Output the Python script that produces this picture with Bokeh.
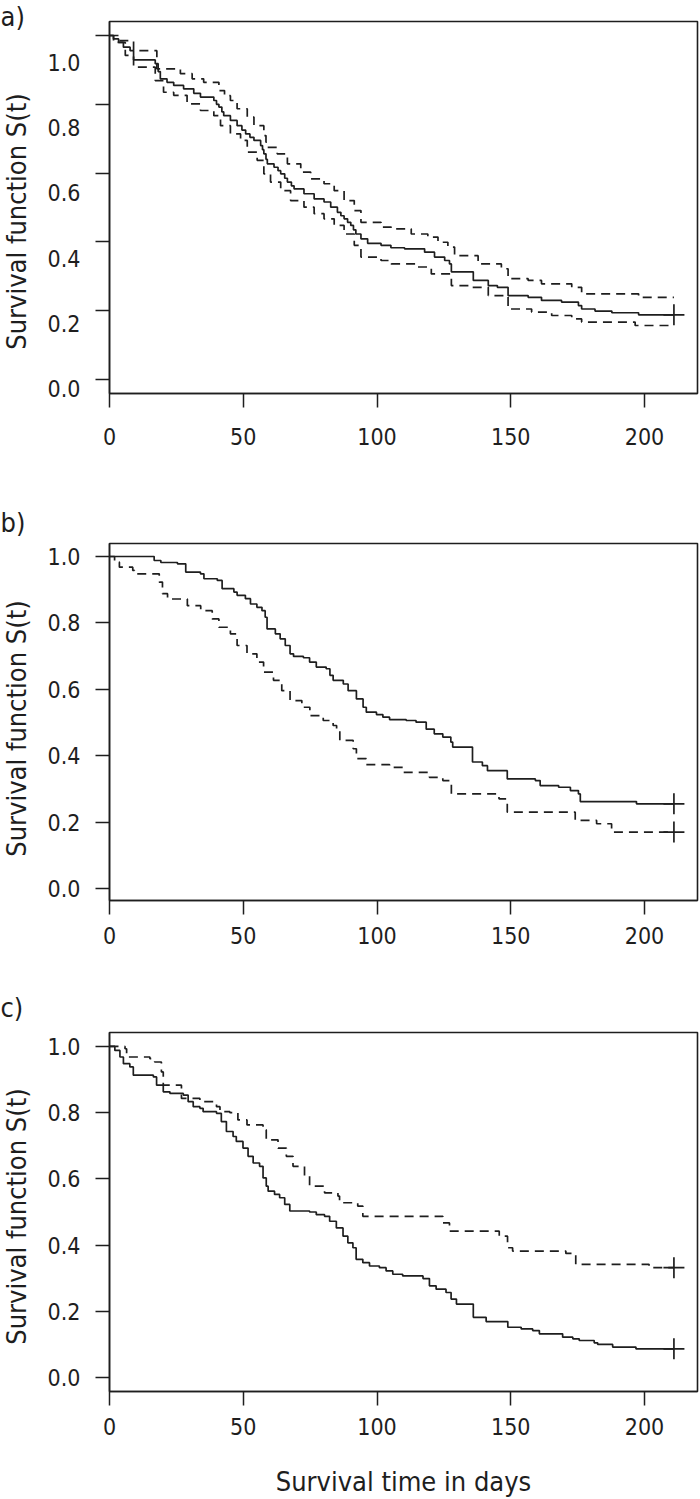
import numpy as np
from bokeh.plotting import figure
from bokeh.models import Range1d, LinearAxis, FixedTicker, NumeralTickFormatter
from bokeh.layouts import column, row
from bokeh.core.properties import value
from bokeh.embed import file_html
from bokeh.resources import INLINE

# ------------------------------------------------------------------ data
TICKS_X = [0, 50, 100, 150, 200]
TICKS_Y = [0.0, 0.2, 0.4, 0.6, 0.8, 1.0]
PANEL_TAGS = ["a)", "b)", "c)"]
Y_TITLE = "Survival function S(t)"
X_TITLE = "Survival time in days"
CENSOR_DAY = 211.0

# panel a: Kaplan-Meier estimate with upper / lower confidence band
A_T = [0, 1.5, 3.4, 5.2, 7.7, 9.0, 17.1, 18.2, 19.0, 21.5, 24.0, 27.7, 31.5, 34.0, 39.0, 40.0,
       40.9, 42.0, 42.7, 45.2, 47.7, 49.5, 50.9, 52.5, 54.0, 56.5, 57.2, 57.7, 58.5, 59.0, 61.5,
       63.0, 64.0, 65.5, 66.5, 68.0, 69.0, 72.7, 76.5, 80.2, 82.7, 85.2, 86.5, 87.7, 89.0, 90.2,
       91.2, 92.1, 94.0, 96.5, 101.5, 105.2, 110.3, 117.8, 121.5, 125.3, 127.1, 127.8, 136.0,
       141.6, 145.0, 149.0, 156.5, 161.5, 169.0, 175.3, 176.5, 181.5, 187.8, 197.8]
A_S = [1.0, 0.990, 0.980, 0.966, 0.956, 0.929, 0.918, 0.895, 0.874, 0.864, 0.855, 0.845, 0.832,
       0.821, 0.811, 0.800, 0.792, 0.778, 0.767, 0.753, 0.738, 0.725, 0.714, 0.704, 0.695, 0.680,
       0.668, 0.656, 0.640, 0.627, 0.617, 0.607, 0.598, 0.585, 0.574, 0.563, 0.554, 0.540, 0.525,
       0.516, 0.501, 0.486, 0.476, 0.467, 0.457, 0.448, 0.435, 0.423, 0.409, 0.396, 0.390, 0.383,
       0.380, 0.370, 0.356, 0.346, 0.336, 0.313, 0.288, 0.273, 0.268, 0.244, 0.239, 0.230, 0.225,
       0.215, 0.205, 0.199, 0.194, 0.188]
A_UP_T = [0, 4.0, 9.0, 17.7, 26.5, 30.9, 35.2, 40.9, 43.0, 45.2, 47.7, 51.5, 54.0, 57.7, 58.5,
          59.0, 62.7, 66.5, 71.5, 75.2, 80.2, 84.0, 87.7, 91.5, 94.0, 101.5, 105.3, 112.8, 119.0,
          122.8, 126.5, 129.0, 137.8, 146.5, 149.0, 156.5, 161.5, 172.8, 176.5, 197.8]
A_UP_S = [1.0, 0.985, 0.956, 0.903, 0.889, 0.874, 0.864, 0.840, 0.825, 0.811, 0.787, 0.763,
          0.738, 0.709, 0.690, 0.675, 0.656, 0.627, 0.603, 0.583, 0.569, 0.549, 0.520, 0.491,
          0.457, 0.443, 0.438, 0.423, 0.414, 0.399, 0.385, 0.360, 0.336, 0.322, 0.293, 0.288,
          0.278, 0.268, 0.249, 0.239]
A_LO_T = [0, 1.5, 5.9, 9.0, 17.1, 20.2, 24.0, 29.0, 34.0, 39.0, 41.5, 45.2, 49.0, 51.5, 55.2,
          57.7, 60.2, 64.0, 67.7, 72.7, 76.5, 80.2, 84.0, 87.7, 91.5, 94.0, 101.5, 105.3, 115.3,
          120.3, 127.8, 135.3, 141.6, 149.0, 157.8, 165.3, 172.8, 176.5, 196.5]
A_LO_S = [1.0, 0.980, 0.942, 0.908, 0.869, 0.835, 0.826, 0.801, 0.782, 0.767, 0.738, 0.714,
          0.695, 0.661, 0.637, 0.598, 0.574, 0.549, 0.520, 0.501, 0.482, 0.467, 0.448, 0.423,
          0.390, 0.356, 0.346, 0.336, 0.327, 0.307, 0.273, 0.268, 0.244, 0.205, 0.196, 0.186,
          0.176, 0.167, 0.157]

# panel b: two groups (solid / dashed)
B1_T = [0, 16.7, 19.2, 25.4, 28.5, 34.0, 35.3, 40.3, 42.1, 46.5, 47.7, 50.8, 52.7, 55.1, 57.0,
        58.2, 58.9, 62.0, 63.8, 65.7, 67.5, 68.8, 72.5, 74.8, 77.3, 81.0, 82.4, 83.6, 87.4, 89.2,
        92.3, 94.8, 96.0, 99.8, 102.2, 104.7, 110.9, 114.6, 118.4, 121.4, 124.6, 127.6, 128.3,
        135.7, 139.4, 141.3, 148.7, 159.2, 161.0, 167.9, 172.3, 175.3, 176.0, 197.0]
B1_S = [1.0, 0.988, 0.982, 0.978, 0.953, 0.948, 0.933, 0.928, 0.903, 0.893, 0.883, 0.873, 0.857,
        0.847, 0.837, 0.817, 0.782, 0.767, 0.752, 0.732, 0.707, 0.699, 0.695, 0.682, 0.667, 0.662,
        0.642, 0.627, 0.616, 0.596, 0.571, 0.546, 0.531, 0.524, 0.516, 0.509, 0.506, 0.501, 0.480,
        0.466, 0.456, 0.441, 0.426, 0.381, 0.370, 0.355, 0.330, 0.325, 0.310, 0.305, 0.295, 0.285,
        0.262, 0.255]
B2_T = [0, 1.9, 3.7, 8.7, 9.3, 18.6, 19.8, 21.7, 29.1, 34.1, 38.4, 40.9, 45.2, 47.7, 51.4, 55.1,
        57.6, 61.3, 64.4, 67.5, 71.9, 74.9, 79.9, 83.6, 84.9, 86.1, 91.1, 92.3, 96.0, 104.7, 109.7,
        119.6, 124.6, 127.1, 127.8, 145.6, 148.7, 174.1, 182.1, 187.7]
B2_S = [1.0, 0.983, 0.968, 0.958, 0.948, 0.923, 0.888, 0.872, 0.852, 0.837, 0.812, 0.787, 0.767,
        0.732, 0.707, 0.682, 0.652, 0.627, 0.596, 0.566, 0.546, 0.521, 0.506, 0.491, 0.476, 0.446,
        0.421, 0.391, 0.373, 0.365, 0.350, 0.335, 0.325, 0.315, 0.285, 0.270, 0.230, 0.205, 0.195,
        0.170]

# panel c: two groups (solid / dashed)
C1_T = [0, 2.0, 3.9, 5.2, 7.6, 8.9, 16.4, 17.6, 20.1, 22.6, 27.6, 29.4, 31.3, 33.8, 35.0, 40.0,
        41.8, 43.7, 46.2, 47.4, 49.9, 51.8, 53.7, 56.1, 57.4, 58.6, 59.3, 61.7, 63.6, 65.5, 67.4,
        74.8, 77.3, 80.4, 82.3, 84.8, 87.3, 89.1, 91.0, 92.2, 94.7, 97.2, 100.9, 103.4, 105.9,
        109.6, 117.2, 119.6, 122.1, 125.8, 127.7, 129.7, 136.0, 140.8, 148.9, 153.9, 158.2, 160.7,
        169.4, 173.2, 175.6, 181.2, 182.5, 188.1, 196.8]
C1_S = [1.0, 0.988, 0.968, 0.948, 0.938, 0.913, 0.908, 0.883, 0.863, 0.858, 0.853, 0.833, 0.818,
        0.813, 0.803, 0.798, 0.773, 0.743, 0.728, 0.713, 0.693, 0.668, 0.648, 0.638, 0.603, 0.578,
        0.563, 0.553, 0.543, 0.523, 0.503, 0.500, 0.492, 0.487, 0.472, 0.452, 0.427, 0.407, 0.392,
        0.357, 0.347, 0.337, 0.332, 0.322, 0.312, 0.307, 0.299, 0.277, 0.267, 0.257, 0.237, 0.222,
        0.182, 0.169, 0.152, 0.147, 0.142, 0.132, 0.122, 0.117, 0.112, 0.105, 0.100, 0.092, 0.087]
C2_T = [0, 5.8, 6.4, 15.1, 16.9, 19.4, 20.1, 26.9, 33.8, 40.0, 41.3, 45.0, 48.0, 51.4, 57.4, 58.6,
        63.0, 66.1, 68.6, 72.9, 74.8, 80.4, 85.4, 86.0, 92.8, 94.7, 124.6, 127.1, 145.7, 148.8,
        150.7, 170.6, 174.3, 201.7]
C2_S = [1.0, 0.993, 0.968, 0.963, 0.953, 0.923, 0.883, 0.843, 0.833, 0.818, 0.803, 0.800, 0.778,
        0.763, 0.748, 0.718, 0.693, 0.668, 0.638, 0.608, 0.578, 0.558, 0.548, 0.528, 0.518, 0.487,
        0.467, 0.442, 0.427, 0.392, 0.382, 0.375, 0.342, 0.332]

# ------------------------------------------------------------------ style / layout
INK = "#1e1e1e"
TICK_FONT = "DejaVu Sans Condensed"
TITLE_FONT = "DejaVu Sans Condensed"
TICK_SIZE = "23px"
TITLE_SIZE = "27px"
TAG_SIZE = "27px"
W = 700
STRIP_W = 34            # narrow column holding panel tag + vertical title
LEFT = 109 - STRIP_W    # left border of the plot itself
RIGHT = 3
FRAME_W = W - STRIP_W - LEFT - RIGHT
PX_PER_DAY = 2.675
X_END = FRAME_W / PX_PER_DAY
DASH = "9 6"
LW = 1.7
YTITLE_X = 16           # centre of the vertical title inside the strip


def style_axis(ax, ticks):
    ax.ticker = FixedTicker(ticks=ticks)
    ax.axis_line_color = INK
    ax.axis_line_width = 1.5
    ax.major_tick_line_color = INK
    ax.major_tick_line_width = 1.5
    ax.major_tick_out = 14
    ax.major_tick_in = 0
    ax.minor_tick_line_color = None
    ax.major_label_text_font = TICK_FONT
    ax.major_label_text_font_size = TICK_SIZE
    ax.major_label_text_color = INK


def make_strip(tag, height, tag_top, title_cy):
    """Narrow figure (pixel-like ranges, y measured from top) with the tag and the y title."""
    s = figure(width=STRIP_W, height=height, x_range=Range1d(0, STRIP_W),
               y_range=Range1d(height, 0), output_backend="svg", toolbar_location=None,
               min_border_left=0, min_border_right=0, min_border_top=0, min_border_bottom=0,
               x_axis_type=None, y_axis_type=None)
    try:
        s.frame_align = False
    except Exception:
        pass
    s.title.visible = False
    s.grid.visible = False
    s.outline_line_color = None
    s.background_fill_color = "white"
    s.border_fill_color = "white"
    s.text(x=[0], y=[tag_top], text=[tag], text_font=value(TITLE_FONT),
           text_font_size=value(TAG_SIZE), text_color=INK,
           text_baseline="top", text_align="left")
    s.text(x=[YTITLE_X], y=[title_cy], text=[Y_TITLE], angle=np.pi / 2,
           text_font=value(TITLE_FONT), text_font_size=value(TITLE_SIZE), text_color=INK,
           text_baseline="middle", text_align="center")
    return s


def make_panel(tag, height, top, frame_h, y0, y1, solid, dashed, censors,
               tag_top, title_cy, xlab_standoff, label_range=None, x_title=None):
    bottom = height - top - frame_h
    p = figure(width=W - STRIP_W, height=height, x_range=Range1d(0, X_END),
               y_range=Range1d(y0, y1), output_backend="svg", toolbar_location=None,
               min_border_left=LEFT, min_border_right=RIGHT,
               min_border_top=top, min_border_bottom=bottom)
    p.title.visible = False
    p.grid.visible = False
    p.outline_line_color = INK
    p.outline_line_width = 1.6
    p.outline_line_alpha = 1.0
    p.background_fill_color = "white"
    p.border_fill_color = "white"

    xa = p.xaxis[0]
    style_axis(xa, TICKS_X)
    xa.major_label_standoff = xlab_standoff
    if x_title:
        xa.axis_label = x_title
        xa.axis_label_text_font = TITLE_FONT
        xa.axis_label_text_font_size = TITLE_SIZE
        xa.axis_label_text_font_style = "normal"
        xa.axis_label_text_color = INK
        xa.axis_label_standoff = 28

    ya = p.yaxis[0]
    style_axis(ya, TICKS_Y)
    ya.formatter = NumeralTickFormatter(format="0.0")
    if label_range is not None:
        # ticks on the box, tick labels drawn slightly displaced (as in the original)
        ya.major_label_text_font_size = "0px"
        ya.major_label_text_color = None
        ya.major_label_standoff = 0
        p.extra_y_ranges = {"lab": Range1d(*label_range)}
        la = LinearAxis(y_range_name="lab")
        style_axis(la, TICKS_Y)
        la.formatter = NumeralTickFormatter(format="0.0")
        la.axis_line_color = None
        la.major_tick_line_color = None
        la.major_tick_out = 0
        la.major_label_standoff = 15
        p.add_layout(la, "left")
    else:
        ya.major_label_standoff = 15

    for (tt, ss) in solid:
        p.step(tt + [CENSOR_DAY], ss + [ss[-1]], mode="after", line_color=INK, line_width=LW)
    for (tt, ss) in dashed:
        p.step(tt + [CENSOR_DAY], ss + [ss[-1]], mode="after", line_color=INK, line_width=LW,
               line_dash=DASH)
    for s_end in censors:
        p.scatter([CENSOR_DAY], [s_end], marker="cross", size=21, line_color=INK, line_width=1.7)

    return row(make_strip(tag, height, tag_top, title_cy), p, spacing=0)


ra = make_panel(PANEL_TAGS[0], 500, 21, 372, -0.0407, 1.0407,
                solid=[(A_T, A_S)], dashed=[(A_UP_T, A_UP_S), (A_LO_T, A_LO_S)],
                censors=[A_S[-1]], tag_top=0, title_cy=221, xlab_standoff=20,
                label_range=(-0.0153, 1.1258))
rb = make_panel(PANEL_TAGS[1], 490, 43, 357, -0.0361, 1.0392,
                solid=[(B1_T, B1_S)], dashed=[(B2_T, B2_S)],
                censors=[B1_S[-1], B2_S[-1]], tag_top=6, title_cy=228, xlab_standoff=12)
rc = make_panel(PANEL_TAGS[2], 509, 42, 361, -0.042, 1.042,
                solid=[(C1_T, C1_S)], dashed=[(C2_T, C2_S)],
                censors=[C1_S[-1], C2_S[-1]], tag_top=1, title_cy=226, xlab_standoff=12,
                x_title=X_TITLE)

layout = column(ra, rb, rc, spacing=0)
open("out.html", "w").write(file_html(layout, INLINE))
